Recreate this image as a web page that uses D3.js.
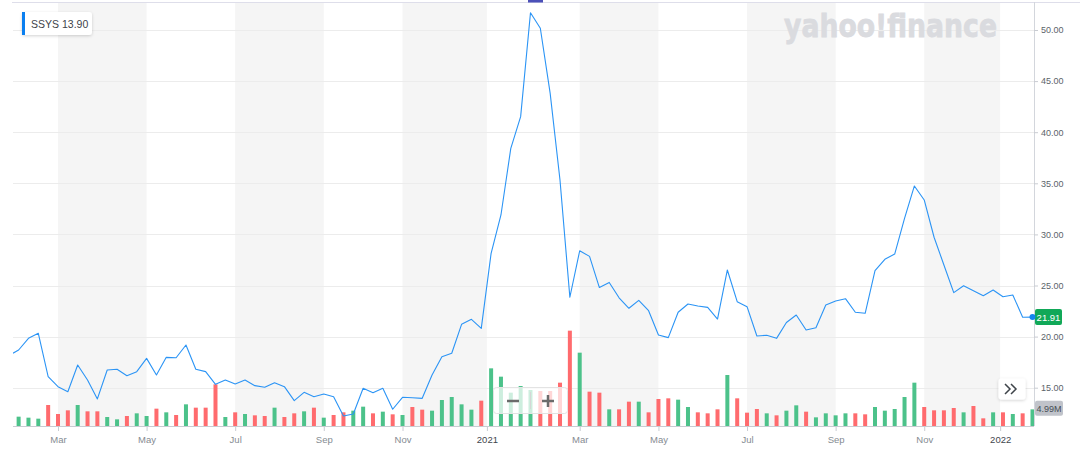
<!DOCTYPE html>
<html>
<head>
<meta charset="utf-8">
<script src="https://cdn.jsdelivr.net/npm/d3@7"></script>
<style>
  body { margin: 0; background: #fff; }
  svg { display: block; font-family: Arial, "Liberation Sans", sans-serif; }
</style>
</head>
<body>
<svg width="1080" height="454"></svg>
<script>
let width = 1080,
    height = 454;

let plotLeft = 13,
    plotRight = 1034,
    plotTop = 2,
    baseline = 426;

// first point is the start of the range, then one point per week (Mondays)
let firstDate = "2020-01-30";
let lastDate = "2022-01-24";

let prices = [
    18.37, 18.69, 19.83, 20.32, 16.08, 15.10, 14.61, 17.22, 15.75, 13.90,
    16.73, 16.80, 16.17, 16.57, 17.87, 16.24, 17.97, 17.93, 19.18, 16.80,
    16.57, 15.33, 15.75, 15.36, 15.75, 15.20, 15.04, 15.49, 15.10, 13.73,
    14.55, 14.12, 14.38, 14.12, 12.23, 12.43, 14.94, 14.51, 14.94, 12.89,
    14.06, 14.02, 13.96, 16.24, 18.03, 18.37, 21.20, 21.69, 20.81, 28.15,
    31.90, 38.42, 41.52, 51.69, 50.17, 43.80, 35.30, 23.85, 28.40, 27.85,
    24.80, 25.30, 23.80, 22.77, 23.55, 22.53, 20.16, 19.90, 22.38, 23.19,
    22.99, 22.86, 21.72, 26.52, 23.42, 22.93, 20.06, 20.13, 19.83, 21.38,
    22.11, 20.65, 20.87, 23.09, 23.48, 23.71, 22.38, 22.28, 26.45, 27.56,
    28.08, 31.57, 34.74, 33.37, 29.72, 27.01, 24.30, 24.98, 24.49, 24.00,
    24.56, 23.90, 24.07, 21.89, 21.91
];

// weekly volume, millions
let volumes = [
    null, 2.8, 2.5, 2.2, 6.3, 3.6, 4.7, 6.3, 4.4, 4.4,
    2.7, 2.0, 3.0, 3.8, 3.0, 5.2, 4.1, 3.3, 6.5, 5.5,
    5.5, 12.5, 2.7, 4.1, 3.6, 3.2, 3.0, 5.5, 2.7, 3.8,
    4.4, 5.5, 2.5, 3.3, 4.1, 4.6, 5.8, 3.8, 4.3, 3.5,
    3.3, 5.7, 4.9, 4.6, 7.8, 8.7, 6.5, 4.9, 7.6, 17.3,
    14.8, 10.0, 12.0, 10.8, 10.5, 10.5, 13.0, 28.6, 22.0, 10.3,
    10.0, 5.0, 5.0, 7.3, 7.3, 4.1, 8.1, 8.3, 7.9, 5.7,
    4.1, 3.8, 5.0, 15.3, 8.3, 4.0, 5.1, 3.8, 3.2, 4.6,
    6.2, 4.3, 2.6, 3.8, 3.2, 3.8, 3.8, 3.5, 5.7, 4.6,
    5.1, 8.7, 13.0, 5.7, 4.7, 4.7, 5.4, 4.1, 6.0, 2.3,
    4.1, 4.1, 3.6, 3.8, 4.99
];

let tickDates = ["2020-03-02", "2020-05-04", "2020-07-06", "2020-09-07", "2020-11-02", "2021-01-01",
                 "2021-03-08", "2021-05-03", "2021-07-05", "2021-09-06", "2021-11-08", "2022-01-01"];
let tickLabels = ["Mar", "May", "Jul", "Sep", "Nov", "2021", "Mar", "May", "Jul", "Sep", "Nov", "2022"];

let priceTicks = [15, 20, 25, 30, 35, 40, 45, 50];

let symbol = "SSYS",
    legendValue = "13.90",
    lastPriceLabel = "21.91",
    lastVolumeLabel = "4.99M";

let parse = d3.utcParse("%Y-%m-%d");

let weekDates = d3.utcMonday.range(parse("2020-02-03"), d3.utcDay.offset(parse(lastDate), 1));
let dates = [parse(firstDate), ...weekDates];

let data = dates.map((d, i) => ({
    date: d,
    price: prices[i],
    volume: volumes[i],
    up: i === 0 || prices[i] >= prices[i - 1]
}));

let x = d3.scaleUtc()
    .domain([dates[0], dates[dates.length - 1]])
    .range([plotLeft, 1032.5]);

let y = d3.scaleLinear()
    .domain([15, 50])
    .range([387.7, 30]);

let yVol = d3.scaleLinear()
    .domain([0, 30])
    .range([baseline, baseline - 100]);

let ticks = tickDates.map(parse);

let svg = d3.select("svg");

let defs = svg.append("defs");
defs.append("clipPath").attr("id", "plot-clip")
    .append("rect")
    .attr("x", plotLeft).attr("y", plotTop)
    .attr("width", plotRight - plotLeft).attr("height", baseline - plotTop);

let shadow = defs.append("filter").attr("id", "shadow")
    .attr("x", "-20%").attr("y", "-30%").attr("width", "140%").attr("height", "170%");
shadow.append("feDropShadow")
    .attr("dx", 0).attr("dy", 1)
    .attr("stdDeviation", 1.5)
    .attr("flood-color", "#000")
    .attr("flood-opacity", 0.18);

// shaded month bands: Mar-May, Jul-Sep, Nov-Jan
let bands = d3.range(0, ticks.length, 2).map(i => [ticks[i], ticks[i + 1]]);
svg.append("g")
    .attr("class", "bands")
    .selectAll("rect")
    .data(bands)
    .enter().append("rect")
    .attr("x", d => x(d[0]))
    .attr("y", plotTop)
    .attr("width", d => x(d[1]) - x(d[0]))
    .attr("height", baseline - plotTop)
    .attr("fill", "#f5f5f5");

// horizontal grid
svg.append("g")
    .attr("class", "grid")
    .selectAll("line")
    .data(priceTicks)
    .enter().append("line")
    .attr("x1", plotLeft)
    .attr("x2", plotRight)
    .attr("y1", d => Math.round(y(d)) + 0.5)
    .attr("y2", d => Math.round(y(d)) + 0.5)
    .attr("stroke", "#ececec")
    .attr("stroke-width", 1);

// watermark
svg.append("text")
    .attr("x", 784)
    .attr("y", 37)
    .attr("textLength", 213)
    .attr("lengthAdjust", "spacingAndGlyphs")
    .attr("font-family", "'DejaVu Sans', sans-serif")
    .attr("font-weight", "bold")
    .attr("font-size", 32)
    .attr("fill", "#dadbdf")
    .attr("stroke", "#dadbdf")
    .attr("stroke-width", 0.8)
    .text("yahoo!finance");

// top border
svg.append("line")
    .attr("x1", 12).attr("x2", width)
    .attr("y1", 2.5).attr("y2", 2.5)
    .attr("stroke", "#dedeea");

svg.append("rect")
    .attr("x", 528).attr("y", 0)
    .attr("width", 15).attr("height", 2.5)
    .attr("fill", "#4b50b8");

let plot = svg.append("g").attr("clip-path", "url(#plot-clip)");

// volume bars
plot.append("g")
    .attr("class", "volume")
    .selectAll("rect")
    .data(data.filter(d => d.volume != null))
    .enter().append("rect")
    .attr("x", d => x(d.date) - 2)
    .attr("y", d => yVol(d.volume))
    .attr("width", 4)
    .attr("height", d => baseline - yVol(d.volume))
    .attr("fill", d => d.up ? "#4cc28a" : "#ff6b6e");

// price line
let line = d3.line()
    .x(d => x(d.date))
    .y(d => y(d.price));

plot.append("path")
    .datum(data)
    .attr("d", line)
    .attr("fill", "none")
    .attr("stroke", "#2b94f5")
    .attr("stroke-width", 1.1)
    .attr("stroke-linejoin", "round");

// right price axis
svg.append("line")
    .attr("x1", plotRight + 0.5).attr("x2", plotRight + 0.5)
    .attr("y1", plotTop).attr("y2", baseline)
    .attr("stroke", "#d3d6dc");

let yAxis = svg.append("g")
    .attr("transform", `translate(${plotRight},0)`)
    .call(d3.axisRight(y)
        .tickValues(priceTicks)
        .tickSize(4)
        .tickPadding(3)
        .tickFormat(d3.format(".2f")));
yAxis.select(".domain").remove();
yAxis.selectAll(".tick line").attr("stroke", "#c9ccd2");
yAxis.selectAll(".tick text")
    .attr("font-family", "Arial, 'Liberation Sans', sans-serif")
    .attr("font-size", 9)
    .attr("fill", "#5b636a");

// bottom time axis
svg.append("line")
    .attr("x1", plotLeft).attr("x2", plotRight)
    .attr("y1", baseline + 0.5).attr("y2", baseline + 0.5)
    .attr("stroke", "#c9ccd2");

let xAxis = svg.append("g")
    .attr("transform", `translate(0,${baseline})`)
    .call(d3.axisBottom(x)
        .tickValues(ticks)
        .tickSize(5)
        .tickPadding(5)
        .tickFormat((d, i) => tickLabels[i]));
xAxis.select(".domain").remove();
xAxis.selectAll(".tick line").attr("stroke", "#c9ccd2");
xAxis.selectAll(".tick text")
    .attr("font-family", "Arial, 'Liberation Sans', sans-serif")
    .attr("font-size", 9.5)
    .attr("fill", (d, i) => /^\d+$/.test(tickLabels[i]) ? "#3f464d" : "#858b92");

// zoom controls overlay
let zoomCtl = svg.append("g").attr("class", "zoom-controls");
zoomCtl.append("rect")
    .attr("x", 493.5).attr("y", 387.5)
    .attr("width", 74).attr("height", 26)
    .attr("rx", 3)
    .attr("fill", "#fff")
    .attr("fill-opacity", 0.72)
    .attr("stroke", "#e3e3e3");
zoomCtl.append("line")
    .attr("x1", 530.5).attr("x2", 530.5)
    .attr("y1", 392).attr("y2", 409)
    .attr("stroke", "#d6d6d6");
zoomCtl.append("line")
    .attr("x1", 507).attr("x2", 519)
    .attr("y1", 401).attr("y2", 401)
    .attr("stroke", "#6b6b6b").attr("stroke-width", 2.5);
zoomCtl.append("line")
    .attr("x1", 542).attr("x2", 554)
    .attr("y1", 401).attr("y2", 401)
    .attr("stroke", "#6b6b6b").attr("stroke-width", 2.5);
zoomCtl.append("line")
    .attr("x1", 548).attr("x2", 548)
    .attr("y1", 395).attr("y2", 407)
    .attr("stroke", "#6b6b6b").attr("stroke-width", 2.5);

// "more" button
let more = svg.append("g");
more.append("rect")
    .attr("x", 998.5).attr("y", 378.5)
    .attr("width", 27).attr("height", 21)
    .attr("rx", 3)
    .attr("fill", "#fff")
    .attr("filter", "url(#shadow)");
more.selectAll("path")
    .data([1005, 1011])
    .enter().append("path")
    .attr("d", d => `M${d},384 L${d + 5},389 L${d},394`)
    .attr("fill", "none")
    .attr("stroke", "#3f444a")
    .attr("stroke-width", 1.5);

// legend
let legend = svg.append("g").attr("transform", "translate(22,12)");
legend.append("rect")
    .attr("width", 70).attr("height", 23)
    .attr("rx", 3)
    .attr("fill", "#fff")
    .attr("filter", "url(#shadow)");
legend.append("rect")
    .attr("width", 3).attr("height", 23)
    .attr("fill", "#0a7ff0");
legend.append("text")
    .attr("x", 9).attr("y", 15.5)
    .attr("font-size", 10.5)
    .attr("fill", "#3d4349")
    .text(symbol);
legend.append("text")
    .attr("x", 40).attr("y", 15.5)
    .attr("font-size", 10.5)
    .attr("fill", "#3d4349")
    .text(legendValue);

// last price marker
let last = data[data.length - 1];
svg.append("rect")
    .attr("x", 1035).attr("y", y(last.price) - 8)
    .attr("width", 27).attr("height", 16)
    .attr("rx", 2)
    .attr("fill", "#11a858");
svg.append("text")
    .attr("x", 1048.5).attr("y", y(last.price) + 3.5)
    .attr("text-anchor", "middle")
    .attr("font-size", 9.5)
    .attr("fill", "#fff")
    .text(lastPriceLabel);
svg.append("circle")
    .attr("cx", x(last.date)).attr("cy", y(last.price))
    .attr("r", 3)
    .attr("fill", "#1585ef");

// last volume marker
svg.append("rect")
    .attr("x", 1035).attr("y", yVol(last.volume) - 8.5)
    .attr("width", 28).attr("height", 15)
    .attr("rx", 2)
    .attr("fill", "#c0c3ca");
svg.append("text")
    .attr("x", 1049).attr("y", yVol(last.volume) + 2.5)
    .attr("text-anchor", "middle")
    .attr("font-size", 9)
    .attr("fill", "#464e56")
    .text(lastVolumeLabel);
</script>
</body>
</html>
